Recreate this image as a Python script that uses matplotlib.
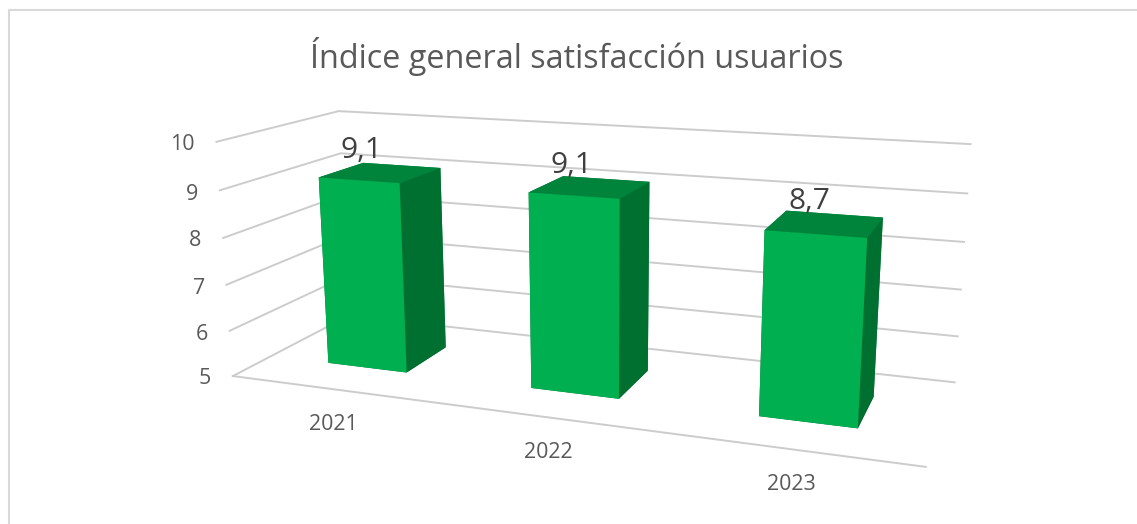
import matplotlib
matplotlib.use('Agg')
import matplotlib.pyplot as plt
import numpy as np

plt.rcParams['font.family'] = ['Open Sans', 'DejaVu Sans']

years = ['2021', '2022', '2023']
values = [9.1, 9.1, 8.7]
ticks = [5, 6, 7, 8, 9, 10]

# pixel positions of the labels
tick_pos = [(205, 379), (202, 334), (199, 288), (195, 241), (192, 194), (182, 145)]
year_pos = [(333, 425), (548, 452), (791, 484)]
value_pos = [(362, 151), (572, 166), (809, 202)]

W, H = 1137, 524
fig = plt.figure(figsize=(W/100, H/100), dpi=100)

# camera fitted on the reference
s, cx, cy = 4077.7, 590.36, 263.64
L = s*0.185
left = cx - 0.095*s
bottom = H - (cy + 0.095*s)
ax = fig.add_axes([left/W, bottom/H, L/W, L/H], projection='3d')
ax.set_xlim(0, 3, view_margin=0)
ax.set_ylim(0, 1, view_margin=0)
ax.set_zlim(5, 10, view_margin=0)
ax.view_init(14.21, -69.59, 0.132)
ax.set_proj_type('persp', focal_length=0.335)
ax.set_box_aspect((3, 1.003, 1.044))
ax.set_axis_off()
ax.computed_zorder = False
ax.patch.set_alpha(0)

# gridlines on side and back wall
for t in ticks:
    ax.plot([0, 0, 3], [0, 1, 1], [t, t, t], color='#CCCCCC', lw=1.4, zorder=1, clip_on=False)
ax.plot([0, 3], [0, 0], [5, 5], color='#CCCCCC', lw=1.4, zorder=1, clip_on=False)

w, d = 0.399, 0.39
x = np.arange(3) + 0.5 - w/2
y = np.full(3, 0.5 - d/2)
z0 = np.full(3, 5.0)
h = np.array(values) - 5
# faces: bottom, top, front, back, left, right
face = ['#007030', '#00843C', '#00B050', '#00843C', '#007030', '#007030']
ax.bar3d(x, y, z0, w, d, h, color=face*3, shade=False, zorder=2, linewidth=0.3, edgecolor=None)

def put(px, py, txt, **kw):
    fig.text(px/W, 1 - py/H, txt, ha='center', va='center', zorder=5, **kw)

for t, (px, py) in zip(ticks, tick_pos):
    put(px, py, str(t), fontsize=15.4, color='#595959')
for yr, (px, py) in zip(years, year_pos):
    put(px, py, yr, fontsize=15.4, color='#595959')
for v, (px, py) in zip(values, value_pos):
    put(px, py, str(v).replace('.', ','), fontsize=21.5, color='#404040')
put(577, 56, 'Índice general satisfacción usuarios', fontsize=23.3, color='#595959')

# chart frame
fig.add_artist(plt.Line2D([8.5/W, 8.5/W, 1], [0, 1 - 9.5/H, 1 - 9.5/H], color='#D9D9D9', lw=1.5))

fig.savefig('out.png')
